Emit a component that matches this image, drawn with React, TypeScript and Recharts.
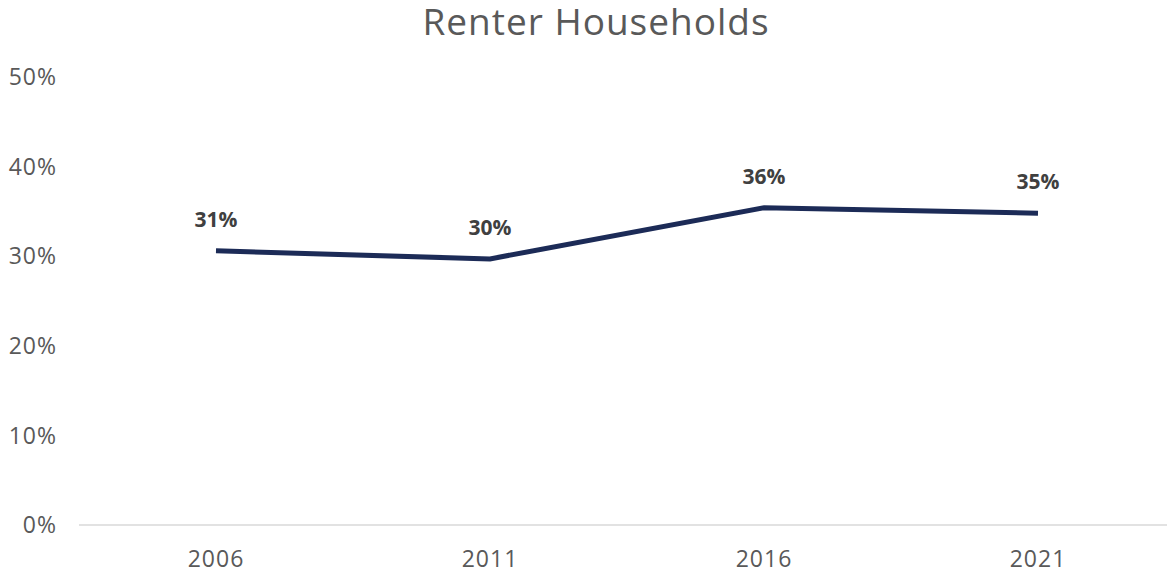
import { LineChart, Line, XAxis, YAxis, LabelList } from 'recharts'

const years = ['2006', '2011', '2016', '2021']
const renterShare = [30.6, 29.7, 35.4, 34.8]
const shareLabels = ['31%', '30%', '36%', '35%']
const yTicks = [0, 10, 20, 30, 40, 50]

const rows = years.map((y, i) => ({ year: y, share: renterShare[i], label: shareLabels[i] }))

const font = '"Open Sans", sans-serif'

function App() {
  return (
    <div style={{ position: 'absolute', left: 0, top: 0, width: 1167, height: 573, overflow: 'hidden', background: '#fff' }}>
      <svg width={1167} height={50} style={{ position: 'absolute', left: 0, top: 0 }}>
        <text
          x={596}
          y={35}
          textAnchor="middle"
          fontFamily={font}
          fontSize={37}
          letterSpacing={1}
          fill="#595959"
        >
          Renter Households
        </text>
      </svg>
      <LineChart width={1175} height={573} data={rows} margin={{ top: 77, right: 0, left: 0, bottom: 0 }}>
        <XAxis
          dataKey="year"
          scale="band"
          height={48}
          tickSize={0}
          tickMargin={26}
          axisLine={{ stroke: '#d9d9d9', strokeWidth: 1.5 }}
          tick={{ fill: '#595959', fontSize: 23, fontFamily: font, letterSpacing: 1 }}
        />
        <YAxis
          domain={[0, 50]}
          ticks={yTicks}
          width={79}
          tickSize={0}
          tickMargin={22}
          axisLine={false}
          tickFormatter={(v: number) => `${v}%`}
          tick={{ fill: '#595959', fontSize: 23, fontFamily: font, letterSpacing: 1 }}
        />
        <Line
          dataKey="share"
          stroke="#1c2b57"
          strokeWidth={5}
          dot={false}
          isAnimationActive={false}
        >
          <LabelList
            dataKey="label"
            position="top"
            offset={24}
            fill="#404040"
            fontSize={21}
            fontWeight={700}
            fontFamily={font}
          />
        </Line>
      </LineChart>
    </div>
  )
}

export default App
